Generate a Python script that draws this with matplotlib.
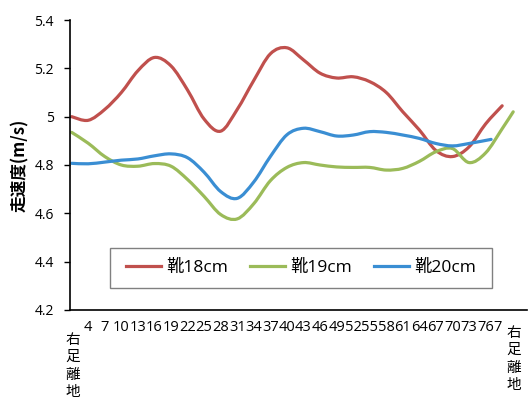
import numpy as np
import matplotlib.pyplot as plt
from matplotlib.path import Path
from matplotlib.patches import PathPatch, Rectangle
from matplotlib.lines import Line2D

plt.rcParams['font.family'] = ['Open Sans', 'Noto Sans CJK JP', 'DejaVu Sans']

# category index (0-based) of the sampled points, every third frame
x_red = [0, 3, 6, 9, 12, 15, 18, 21, 24, 27, 30, 33, 36, 39, 42, 45, 48, 51, 54,
         57, 60, 63, 66, 69, 72, 75, 78]
red = [5.00, 4.985, 5.03, 5.10, 5.19, 5.245, 5.21, 5.11, 4.99, 4.94, 5.03, 5.15,
       5.26, 5.285, 5.235, 5.18, 5.16, 5.165, 5.145, 5.10, 5.02, 4.945, 4.86,
       4.835, 4.875, 4.97, 5.045]

x_green = [0, 3, 6, 9, 12, 15, 18, 21, 24, 27, 30, 33, 36, 39, 42, 45, 48, 51, 54,
           57, 60, 63, 66, 69, 72, 75, 78, 80]
green = [4.935, 4.89, 4.835, 4.80, 4.795, 4.806, 4.795, 4.74, 4.67, 4.595, 4.577,
         4.64, 4.735, 4.79, 4.81, 4.80, 4.792, 4.79, 4.79, 4.779, 4.786, 4.815,
         4.855, 4.868, 4.81, 4.85, 4.95, 5.02]

x_blue = [0, 3, 6, 9, 12, 15, 18, 21, 24, 27, 30, 33, 36, 39, 42, 45, 48, 51, 54,
          57, 60, 63, 66, 69, 72, 76]
blue = [4.807, 4.805, 4.812, 4.82, 4.825, 4.838, 4.846, 4.83, 4.77, 4.69, 4.662,
        4.73, 4.835, 4.925, 4.952, 4.938, 4.92, 4.924, 4.938, 4.935, 4.924, 4.91,
        4.889, 4.879, 4.889, 4.906]

series_names = ['靴18cm', '靴19cm', '靴20cm']
colors = ['#C0504D', '#9BBB59', '#3A8ED3']
n_categories = 83
# visible category labels (first one hidden under the end text, last one cut to "7")
tick_idx = list(range(3, 81, 3))
tick_labels = [str(i + 1) for i in tick_idx[:-1]] + ['7']
end_label = '右\n足\n離\n地'


def smooth_path(xs, ys):
    # Excel-like smoothed line: Catmull-Rom segments as cubic Beziers
    p = np.column_stack([xs, ys]).astype(float)
    verts = [p[0]]
    codes = [Path.MOVETO]
    for i in range(len(p) - 1):
        p0 = p[i - 1] if i > 0 else p[i]
        p3 = p[i + 2] if i + 2 < len(p) else p[i + 1]
        c1 = p[i] + (p[i + 1] - p0) / 6
        c2 = p[i + 1] - (p3 - p[i]) / 6
        verts += [c1, c2, p[i + 1]]
        codes += [Path.CURVE4] * 3
    return Path(verts, codes)


fig = plt.figure(figsize=(5.29, 4.09), dpi=100)
ax = fig.add_axes([70 / 529, 1 - 310 / 409, 457 / 529, 290 / 409])

for xs, ys, c in zip([x_red, x_green, x_blue], [red, green, blue], colors):
    ax.add_patch(PathPatch(smooth_path(xs, ys), fill=False, edgecolor=c,
                           lw=2.3, capstyle='round', joinstyle='round'))

ax.set_xlim(-0.3, n_categories - 0.5)
ax.set_ylim(4.2, 5.4)
ax.set_yticks(np.arange(4.2, 5.41, 0.2))
ax.set_yticklabels(['4.2', '4.4', '4.6', '4.8', '5', '5.2', '5.4'])
ax.set_xticks(tick_idx)
ax.set_xticklabels(tick_labels)
ax.get_xticklabels()[-1].set_ha('right')
ax.tick_params(axis='x', length=0, pad=7, labelsize=10.5)
ax.tick_params(axis='y', length=4.5, width=1, pad=7, labelsize=10)
for s in ['top', 'right']:
    ax.spines[s].set_visible(False)
for s in ['left', 'bottom']:
    ax.spines[s].set_linewidth(1.2)

ax.set_ylabel('走速度(m/s)', fontsize=12, fontweight='bold',
              family=['Noto Sans CJK JP'], labelpad=4)

# legend: frame drawn as a box, entries centred inside it
ax.add_patch(Rectangle((0.0875, 0.0759), 0.836, 0.138, transform=ax.transAxes,
                       facecolor='white', edgecolor='#808080', lw=1, zorder=4))
handles = [Line2D([], [], color=c, lw=2.3) for c in colors]
leg = ax.legend(handles, series_names, ncol=3, loc='center',
                bbox_to_anchor=(0.0875 + 0.418, 0.0759 + 0.069), frameon=False,
                fontsize=12.5, handlelength=2.0, handletextpad=0.3,
                columnspacing=1.3, borderpad=0)
leg.set_zorder(5)

fig.text(72.5 / 529, 1 - 333 / 409, end_label, ha='center', va='top',
         fontsize=10.5, linespacing=1.3, family=['Noto Sans CJK JP'])
fig.text(514 / 529, 1 - 326 / 409, end_label, ha='center', va='top',
         fontsize=10.5, linespacing=1.3, family=['Noto Sans CJK JP'])

fig.savefig('out.png', dpi=100)
